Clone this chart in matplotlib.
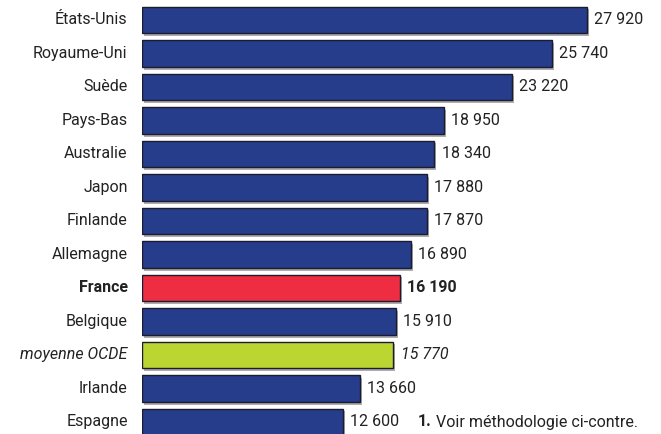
import matplotlib.pyplot as plt
import matplotlib.patheffects as pe

plt.rcParams['font.family'] = ['Roboto', 'DejaVu Sans']

countries = ['États-Unis', 'Royaume-Uni', 'Suède', 'Pays-Bas', 'Australie', 'Japon',
             'Finlande', 'Allemagne', 'France', 'Belgique', 'moyenne OCDE', 'Irlande', 'Espagne']
values = [27920, 25740, 23220, 18950, 18340, 17880, 17870, 16890, 16190, 15910, 15770, 13660, 12600]
labels = ['27 920', '25 740', '23 220', '18 950', '18 340', '17 880', '17 870', '16 890',
          '16 190', '15 910', '15 770', '13 660', '12 600']

navy = '#263d8c'
colors = [navy] * len(values)
colors[8] = '#ee2d42'
colors[10] = '#bcd631'

fig = plt.figure(figsize=(6.61, 4.34), dpi=100)
ax = fig.add_axes([142 / 661, 0, 1 - 142 / 661, 1])

pos = list(range(len(values)))
bars = ax.barh(pos, values, height=0.8, color=colors, edgecolor='#1c1c30', linewidth=1)
for b in bars:
    b.set_path_effects([pe.SimplePatchShadow(offset=(1.5, -2), shadow_rgbFace='#999999', alpha=0.8),
                        pe.Normal()])

ax.set_xlim(0, 519 / 0.01594)
ax.set_ylim(12.36, -0.597)
ax.axis('off')

# noms à gauche, valeurs au bout des barres
for i, (v, lab, name) in enumerate(zip(values, labels, countries)):
    weight = 'bold' if name == 'France' else 'normal'
    style = 'italic' if name == 'moyenne OCDE' else 'normal'
    ax.text(v + 450, i, lab, va='center', ha='left', fontsize=11.5, color='#222222',
            fontweight=weight, fontstyle=style)
    ax.text(-900, i, name, va='center', ha='right', fontsize=11.5, color='#222222',
            fontweight=weight, fontstyle=style, clip_on=False)

# note
fig.text(418 / 661, 1 - 422 / 434, '1.', fontsize=11.5, fontweight='bold', color='#222222',
         va='center', ha='left')
fig.text(436 / 661, 1 - 422 / 434, 'Voir méthodologie ci-contre.', fontsize=11.5, color='#222222',
         va='center', ha='left')

fig.savefig('out.png', dpi=100)
